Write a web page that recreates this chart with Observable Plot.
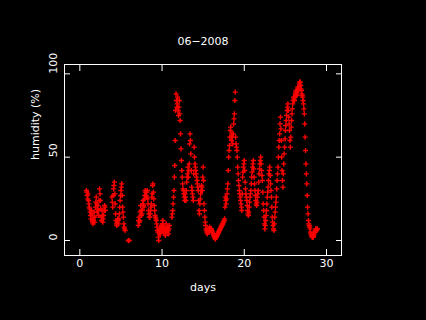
<!DOCTYPE html>
<html><head><meta charset="utf-8">
<script src="https://cdn.jsdelivr.net/npm/d3@7"></script>
<script src="https://cdn.jsdelivr.net/npm/@observablehq/plot@0.6"></script>
<style>html,body{margin:0;padding:0;background:#000;}</style>
</head><body><div id="chart"></div>
<script>
const title = "06\u22122008";
const xLabel = "days";
const yLabel = "humidity (%)";
const xTicks = [0, 10, 20, 30];
const yTicks = [0, 50, 100];
const step = 0.05; // sampling interval (days) of the readings below
const segmentStarts = [0.8, 3.9, 5.9, 7.1, 11.2];
const segA = [30,29,27,25,28,24,22,20,19,17,15,13,18,16,12,11,10,12,14,17,11,14,20,23,26,22,17,19,21,18,15,24,31,28,24,19,14,12,18,15,11,13,15,18,21,20,18];
const segB = [26,23,20,27,31,33,35,28,22,16,12,10,9,11,13,12,10,13,16,20,24,27,30,32,34,27,20,17,14,10,8,7,6];
const segC = [0, 0, 0];
const segD = [9,12,14,11,12,17,21,18,15,16,18,22,24,21,20,25,27,30,29,27,26,29,30,25,22,18,16,14,14,16,18,20,22,26,28,33,34,29,25,21,18,15,14,13,12,10,8,6,5,2,0,4,7,5,4,7,9,8,6,10,12,8,5,7,8,5,3,6,10,7,5,6,8,6,4,7,9];
const segE = [
  14,16,18,22,26,30,38,45,60,78,88,84,80,82,86,78,75,80,84,76,
  72,64,55,48,42,38,34,31,30,28,26,24,28,26,24,30,35,38,40,44,
  38,42,46,58,64,60,52,42,32,30,28,26,24,40,56,50,46,44,42,40,
  38,36,34,32,30,24,18,16,22,25,28,30,33,32,30,38,44,36,22,18,
  14,11,9,7,6,5,4,6,7,6,5,7,8,7,6,7,7,6,5,5,
  4,4,3,2,2,1,1,2,2,3,3,4,4,5,5,6,6,7,7,8,
  8,9,9,10,10,11,11,12,13,20,26,24,22,25,28,31,34,42,50,54,
  57,62,66,68,62,60,64,62,58,64,70,73,76,84,89,62,58,56,54,50,
  44,40,36,33,30,28,26,24,22,20,18,28,38,41,44,46,48,42,35,31,
  28,26,24,21,18,16,15,17,20,23,26,28,30,34,38,41,44,46,48,43,
  38,34,30,27,24,22,21,23,26,28,30,35,40,43,46,48,50,46,42,39,
  36,29,22,18,14,10,7,9,12,15,18,22,26,29,32,36,40,42,44,39,
  34,30,26,20,14,11,9,7,6,10,14,17,20,23,26,31,36,40,44,50,
  56,60,64,70,74,67,60,50,42,36,32,40,46,52,56,61,66,69,72,75,
  78,80,82,78,74,70,66,60,56,62,68,72,76,79,82,84,86,85,84,86,
  88,89,90,88,87,90,92,91,90,92,94,95,95,93,91,90,88,87,86,84,
  82,79,76,70,62,54,46,40,34,27,20,16,12,10,9,8,7,5,4,3,
  3,2,2,2,2,3,4,5,5,6,7,6,6,7,7];
const segments = [segA, segB, segC, segD, segE];

const rows = segments.flatMap((vals, s) =>
  vals.map((h, i) => ({day: +(segmentStarts[s] + i * step).toFixed(3), humidity: h})));

const plot = Plot.plot({
  width: 426, height: 320,
  marginLeft: 64, marginRight: 85, marginTop: 64, marginBottom: 65,
  style: {background: "black", color: "white", fontFamily: "DejaVu Sans", fontSize: "11px"},
  x: {domain: [0, 30], range: [79.33, 326]},
  y: {domain: [0, 100], range: [240, 73.33]},
  marks: [
    Plot.dot(rows, {x: "day", y: "humidity", symbol: "plus", r: 1.8, stroke: "#ff0000", strokeWidth: 1.4}),
    Plot.frame({stroke: "white"}),
    Plot.axisX(xTicks, {anchor: "bottom", tickSize: -6, tickFormat: () => "", label: null, stroke: "white"}),
    Plot.axisX(xTicks, {anchor: "top", tickSize: -6, tickFormat: () => "", label: null, stroke: "white"}),
    Plot.axisY(yTicks, {anchor: "left", tickSize: -6, tickFormat: () => "", label: null, stroke: "white"}),
    Plot.axisY(yTicks, {anchor: "right", tickSize: -6, tickFormat: () => "", label: null, stroke: "white"}),
    Plot.text(xTicks, {x: d => d, text: d => String(d), frameAnchor: "bottom", dy: 11, fill: "white"}),
    Plot.text(yTicks, {y: d => d, text: d => String(d), frameAnchor: "left", dx: -11.5, rotate: -90, fill: "white"}),
    Plot.text([title], {text: d => d, frameAnchor: "top", dy: -27, fill: "white"}),
    Plot.text([xLabel], {text: d => d, frameAnchor: "bottom", dy: 35, fill: "white"}),
    Plot.text([yLabel], {text: d => d, frameAnchor: "left", dx: -29, rotate: -90, fill: "white"})
  ]
});
document.getElementById("chart").appendChild(plot);
</script>
</body></html>
